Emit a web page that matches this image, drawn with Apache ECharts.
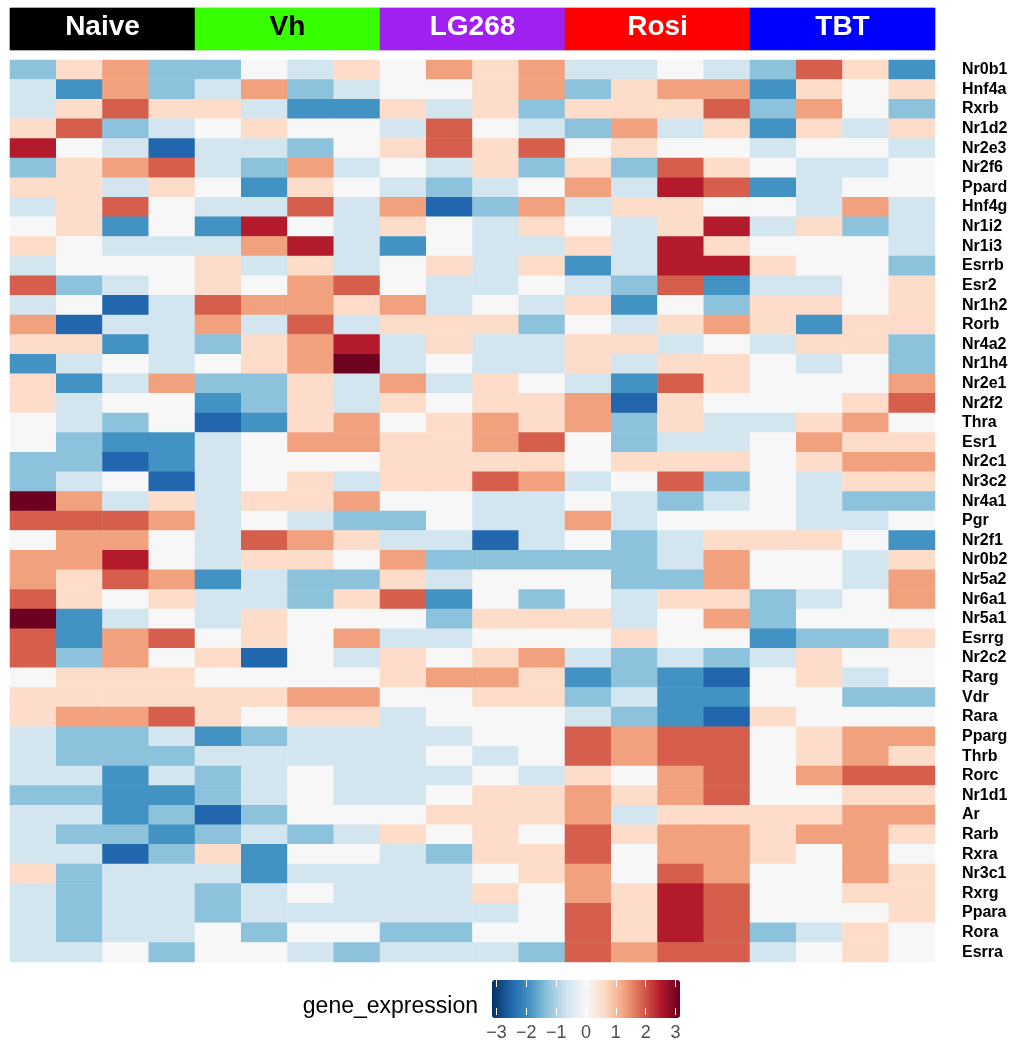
<!DOCTYPE html>
<html>
<head>
<meta charset="utf-8">
<script src="https://cdn.jsdelivr.net/npm/echarts@6/dist/echarts.min.js"></script>
<style>
  html, body { margin: 0; padding: 0; background: #ffffff; }
  #chart { width: 1011px; height: 1042px; }
</style>
</head>
<body>
<div id="chart"></div>
<script>
// Nuclear receptor genes, top to bottom
const genes = ['Nr0b1','Hnf4a','Rxrb','Nr1d2','Nr2e3','Nr2f6','Ppard','Hnf4g','Nr1i2','Nr1i3',
  'Esrrb','Esr2','Nr1h2','Rorb','Nr4a2','Nr1h4','Nr2e1','Nr2f2','Thra','Esr1',
  'Nr2c1','Nr3c2','Nr4a1','Pgr','Nr2f1','Nr0b2','Nr5a2','Nr6a1','Nr5a1','Esrrg',
  'Nr2c2','Rarg','Vdr','Rara','Pparg','Thrb','Rorc','Nr1d1','Ar','Rarb',
  'Rxra','Nr3c1','Rxrg','Ppara','Rora','Esrra'];

// Treatment groups (4 replicates each)
const groups = ['Naive', 'Vh', 'LG268', 'Rosi', 'TBT'];
const groupColors = ['#000000', '#38ff00', '#a020f0', '#ff0000', '#0000ff'];
const groupTextColors = ['#ffffff', '#000000', '#ffffff', '#ffffff', '#ffffff'];

// Scaled expression, one row per gene, 4 replicates per group
const naive = [
  [-1.3, 0.6, 1.3, -1.3], [-0.6, -1.9, 1.3, -1.3], [-0.6, 0.6, 1.9, 0.6], [0.6, 1.9, -1.3, -0.6],
  [2.5, 0, -0.6, -2.5], [-1.3, 0.6, 1.3, 1.9], [0.6, 0.6, -0.6, 0.6], [-0.6, 0.6, 1.9, 0],
  [0, 0.6, -1.9, 0], [0.6, 0, -0.6, -0.6], [-0.6, 0, 0, 0], [1.9, -1.3, -0.6, 0],
  [-0.6, 0, -2.5, -0.6], [1.3, -2.5, -0.6, -0.6], [0.6, 0.6, -1.9, -0.6], [-1.9, -0.6, 0, -0.6],
  [0.6, -1.9, -0.6, 1.3], [0.6, -0.6, 0, 0], [0, -0.6, -1.3, 0], [0, -1.3, -1.9, -1.9],
  [-1.3, -1.3, -2.5, -1.9], [-1.3, -0.6, 0, -2.5], [3.1, 1.3, -0.6, 0.6], [1.9, 1.9, 1.9, 1.3],
  [0, 1.3, 1.3, 0], [1.3, 1.3, 2.5, 0], [1.3, 0.6, 1.9, 1.3], [1.9, 0.6, 0, 0.6],
  [3.1, -1.9, -0.6, 0], [1.9, -1.9, 1.3, 1.9], [1.9, -1.3, 1.3, 0], [0, 0.6, 0.6, 0.6],
  [0.6, 0.6, 0.6, 0.6], [0.6, 1.3, 1.3, 1.9], [-0.6, -1.3, -1.3, -0.6], [-0.6, -1.3, -1.3, -1.3],
  [-0.6, -0.6, -1.9, -0.6], [-1.3, -1.3, -1.9, -1.9], [-0.6, -0.6, -1.9, -1.3], [-0.6, -1.3, -1.3, -1.9],
  [-0.6, -0.6, -2.5, -1.3], [0.6, -1.3, -0.6, -0.6], [-0.6, -1.3, -0.6, -0.6], [-0.6, -1.3, -0.6, -0.6],
  [-0.6, -1.3, -0.6, -0.6], [-0.6, -0.6, 0, -1.3]
];
const vh = [
  [-1.3, 0, -0.6, 0.6], [-0.6, 1.3, -1.3, -0.6], [0.6, -0.6, -1.9, -1.9], [0, 0.6, 0, 0],
  [-0.6, -0.6, -1.3, 0], [-0.6, -1.3, 1.3, -0.6], [0, -1.9, 0.6, 0], [-0.6, -0.6, 1.9, -0.6],
  [-1.9, 2.5, 0, -0.6], [-0.6, 1.3, 2.5, -0.6], [0.6, -0.6, 0.6, -0.6], [0.6, 0, 1.3, 1.9],
  [1.9, 1.3, 1.3, 0.6], [1.3, -0.6, 1.9, -0.6], [-1.3, 0.6, 1.3, 2.5], [0, 0.6, 1.3, 3.1],
  [-1.3, -1.3, 0.6, -0.6], [-1.9, -1.3, 0.6, -0.6], [-2.5, -1.9, 0.6, 1.3], [-0.6, 0, 1.3, 1.3],
  [-0.6, 0, 0, 0], [-0.6, 0, 0.6, -0.6], [-0.6, 0.6, 0.6, 1.3], [-0.6, 0, -0.6, -1.3],
  [-0.6, 1.9, 1.3, 0.6], [-0.6, 0.6, 0.6, 0], [-1.9, -0.6, -1.3, -1.3], [-0.6, -0.6, -1.3, 0.6],
  [-0.6, 0.6, 0, 0], [0, 0.6, 0, 1.3], [0.6, -2.5, 0, -0.6], [0, 0, 0, 0],
  [0.6, 0.6, 1.3, 1.3], [0.6, 0, 0.6, 0.6], [-1.9, -1.3, -0.6, -0.6], [-0.6, -0.6, -0.6, -0.6],
  [-1.3, -0.6, 0, -0.6], [-1.3, -0.6, 0, -0.6], [-2.5, -1.3, 0, 0], [-1.3, -0.6, -1.3, -0.6],
  [0.6, -1.9, 0, 0], [-0.6, -1.9, -0.6, -0.6], [-1.3, -0.6, 0, -0.6], [-1.3, -0.6, -0.6, -0.6],
  [0, -1.3, 0, 0], [0, 0, -0.6, -1.3]
];
const lg268 = [
  [0, 1.3, 0.6, 1.3], [0, 0, 0.6, 1.3], [0.6, -0.6, 0.6, -1.3], [-0.6, 1.9, 0, -0.6],
  [0.6, 1.9, 0.6, 1.9], [0, -0.6, 0.6, -1.3], [-0.6, -1.3, -0.6, 0], [1.3, -2.5, -1.3, 1.3],
  [0.6, 0, -0.6, 0.6], [-1.9, 0, -0.6, -0.6], [0, 0.6, -0.6, 0.6], [0, -0.6, -0.6, 0],
  [1.3, -0.6, 0, -0.6], [0.6, 0.6, 0.6, -1.3], [-0.6, 0.6, -0.6, -0.6], [-0.6, 0, -0.6, -0.6],
  [1.3, -0.6, 0.6, 0], [0.6, 0, 0.6, 0.6], [0, 0.6, 1.3, 0.6], [0.6, 0.6, 1.3, 1.9],
  [0.6, 0.6, 0.6, 0.6], [0.6, 0.6, 1.9, 1.3], [0, 0, -0.6, -0.6], [-1.3, 0, -0.6, -0.6],
  [-0.6, -0.6, -2.5, -0.6], [1.3, -1.3, -1.3, -1.3], [0.6, -0.6, 0, 0], [1.9, -1.9, 0, -1.3],
  [0, -1.3, 0.6, 0.6], [-0.6, -0.6, 0, 0], [0.6, 0, 0.6, 1.3], [0.6, 1.3, 1.3, 0.6],
  [0, 0, 0.6, 0.6], [-0.6, 0, 0, 0], [-0.6, -0.6, 0, 0], [-0.6, 0, -0.6, 0],
  [-0.6, -0.6, 0, -0.6], [-0.6, 0, 0.6, 0.6], [0, 0.6, 0.6, 0.6], [0.6, 0, 0.6, 0],
  [-0.6, -1.3, 0.6, 0.6], [-0.6, -0.6, 0, 0.6], [-0.6, -0.6, 0.6, 0], [-0.6, -0.6, -0.6, 0],
  [-1.3, -1.3, 0, 0], [-0.6, -0.6, -0.6, -1.3]
];
const rosi = [
  [-0.6, -0.6, 0, -0.6], [-1.3, 0.6, 1.3, 1.3], [0.6, 0.6, 0.6, 1.9], [-1.3, 1.3, -0.6, 0.6],
  [0, 0.6, 0, 0], [0.6, -1.3, 1.9, 0.6], [1.3, -0.6, 2.5, 1.9], [-0.6, 0.6, 0.6, 0],
  [0, -0.6, 0.6, 2.5], [0.6, -0.6, 2.5, 0.6], [-1.9, -0.6, 2.5, 2.5], [-0.6, -1.3, 1.9, -1.9],
  [0.6, -1.9, 0, -1.3], [0, -0.6, 0.6, 1.3], [0.6, 0.6, -0.6, 0], [0.6, -0.6, 0.6, 0.6],
  [-0.6, -1.9, 1.9, 0.6], [1.3, -2.5, 0.6, 0], [1.3, -1.3, 0.6, -0.6], [0, -1.3, -0.6, -0.6],
  [0, 0.6, 0.6, 0.6], [-0.6, 0, 1.9, -1.3], [0, -0.6, -1.3, -0.6], [1.3, -0.6, 0, 0],
  [0, -1.3, -0.6, 0.6], [-1.3, -1.3, -0.6, 1.3], [0, -1.3, -1.3, 1.3], [0, -0.6, 0.6, 0.6],
  [0.6, -0.6, 0, 1.3], [0, 0.6, 0, 0], [-0.6, -1.3, -0.6, -1.3], [-1.9, -1.3, -1.9, -2.5],
  [-1.3, -0.6, -1.9, -1.9], [-0.6, -1.3, -1.9, -2.5], [1.9, 1.3, 1.9, 1.9], [1.9, 1.3, 1.9, 1.9],
  [0.6, 0, 1.3, 1.9], [1.3, 0.6, 1.3, 1.9], [1.3, -0.6, 0.6, 0.6], [1.9, 0.6, 1.3, 1.3],
  [1.9, 0, 1.3, 1.3], [1.3, 0, 1.9, 1.3], [1.3, 0.6, 2.5, 1.9], [1.9, 0.6, 2.5, 1.9],
  [1.9, 0.6, 2.5, 1.9], [1.9, 1.3, 1.9, 1.9]
];
const tbt = [
  [-1.3, 1.9, 0.6, -1.9], [-1.9, 0.6, 0, 0.6], [-1.3, 1.3, 0, -1.3], [-1.9, 0.6, -0.6, 0.6],
  [-0.6, 0, 0, -0.6], [0, -0.6, -0.6, 0], [-1.9, -0.6, 0, 0], [0, -0.6, 1.3, -0.6],
  [-0.6, 0.6, -1.3, -0.6], [0, 0, 0, -0.6], [0.6, 0, 0, -1.3], [-0.6, -0.6, 0, 0.6],
  [0.6, 0.6, 0, 0.6], [0.6, -1.9, 0.6, 0.6], [-0.6, 0.6, 0.6, -1.3], [0, -0.6, 0, -1.3],
  [0, 0, 0, 1.3], [0, 0, 0.6, 1.9], [-0.6, 0.6, 1.3, 0], [0, 1.3, 0.6, 0.6],
  [0, 0.6, 1.3, 1.3], [0, -0.6, 0.6, 0.6], [0, -0.6, -1.3, -1.3], [0, -0.6, -0.6, 0],
  [0.6, 0.6, 0, -1.9], [0, 0, -0.6, 0.6], [0, 0, -0.6, 1.3], [-1.3, -0.6, 0, 1.3],
  [-1.3, 0, 0, 0], [-1.9, -1.3, -1.3, 0.6], [-0.6, 0.6, 0, 0], [0, 0.6, -0.6, 0],
  [0, 0, -1.3, -1.3], [0.6, 0, 0, 0], [0, 0.6, 1.3, 1.3], [0, 0.6, 1.3, 0.6],
  [0, 1.3, 1.9, 1.9], [0, 0, 0.6, 0.6], [0.6, 0.6, 1.3, 1.3], [0.6, 1.3, 1.3, 0.6],
  [0.6, 0, 1.3, 0], [0, 0, 1.3, 0.6], [0, 0, 0.6, 0.6], [0, 0, 0, 0.6],
  [-1.3, -0.6, 0.6, 0], [-0.6, 0, 0.6, 0]
];

// Colour bar ticks and scale limits
const legendTicks = [-3, -2, -1, 0, 1, 2, 3];
const scaleMin = -3.15;
const scaleMax = 3.15;
const rdbu = ['#053061', '#2166ac', '#4393c3', '#92c5de', '#d1e5f0', '#f7f7f7',
              '#fddbc7', '#f4a582', '#d6604d', '#b2182b', '#67001f'];

// Build sample columns and heatmap cells
const groupValues = [naive, vh, lg268, rosi, tbt];
const samples = [];
groups.forEach(function (g) { for (let i = 1; i <= 4; i++) samples.push(g + '_' + i); });
const cells = [];
groupValues.forEach(function (vals, gi) {
  vals.forEach(function (row, r) {
    row.forEach(function (v, k) { cells.push([gi * 4 + k, r, v]); });
  });
});
const groupCells = groups.map(function (g, i) {
  return { value: [i, 0, i], label: { color: groupTextColors[i] } };
});

const FONT = "'Liberation Sans', Arial, Helvetica, sans-serif";
const chart = echarts.init(document.getElementById('chart'), null, { renderer: 'canvas' });

chart.setOption({
  backgroundColor: '#ffffff',
  animation: false,
  textStyle: { fontFamily: FONT },
  grid: [
    { left: 10, top: 60, width: 925, height: 902 },
    { left: 10, top: 8, width: 925, height: 42,
      show: true, borderWidth: 1, borderColor: '#cfcfcf', backgroundColor: 'transparent' },
    { left: 492, top: 980, width: 188, height: 38 }
  ],
  xAxis: [
    { type: 'category', gridIndex: 0, data: samples, show: false },
    { type: 'category', gridIndex: 1, data: groups, show: false },
    {
      type: 'value', gridIndex: 2, min: scaleMin, max: scaleMax, z: 10,
      axisLine: { show: false }, splitLine: { show: false },
      axisTick: { show: true, inside: true, length: 7, customValues: legendTicks,
                  lineStyle: { color: '#ffffff', width: 1 } },
      axisLabel: { show: true, customValues: legendTicks, margin: 9, fontSize: 18, color: '#4d4d4d',
                   fontFamily: FONT,
                   formatter: function (v) { return String(v).replace('-', '\u2212'); } }
    },
    {
      type: 'value', gridIndex: 2, position: 'top', min: scaleMin, max: scaleMax, z: 10,
      axisLine: { show: false }, splitLine: { show: false }, axisLabel: { show: false },
      axisTick: { show: true, inside: true, length: 7, customValues: legendTicks,
                  lineStyle: { color: '#ffffff', width: 1 } }
    }
  ],
  yAxis: [
    {
      type: 'category', gridIndex: 0, data: genes, inverse: true, position: 'right',
      axisLine: { show: false }, axisTick: { show: false }, splitLine: { show: false },
      axisLabel: { margin: 27, fontSize: 16, fontWeight: 'bold', color: '#000000', fontFamily: FONT,
                   interval: 0 }
    },
    { type: 'category', gridIndex: 1, data: ['group'], show: false },
    { type: 'value', gridIndex: 2, show: false }
  ],
  visualMap: [
    {
      type: 'continuous', seriesIndex: 0, dimension: 2, min: scaleMin, max: scaleMax,
      inRange: { color: rdbu }, orient: 'horizontal', left: 492, top: 980,
      itemWidth: 38, itemHeight: 188, padding: 0, text: null, showLabel: false,
      calculable: false, realtime: false, hoverLink: false
    },
    {
      type: 'piecewise', seriesIndex: 1, dimension: 2, show: false,
      pieces: groups.map(function (g, i) { return { value: i, color: groupColors[i] }; })
    }
  ],
  graphic: [
    {
      type: 'text', right: 1011 - 478, top: 995,
      style: { text: 'gene_expression', fontSize: 23, fill: '#000000', fontFamily: FONT }
    }
  ],
  series: [
    {
      type: 'heatmap', xAxisIndex: 0, yAxisIndex: 0, data: cells,
      itemStyle: { borderWidth: 0 }, emphasis: { disabled: true }
    },
    {
      type: 'heatmap', xAxisIndex: 1, yAxisIndex: 1, data: groupCells,
      itemStyle: { borderWidth: 0 }, emphasis: { disabled: true },
      label: {
        show: true, fontSize: 28, fontWeight: 'bold', fontFamily: FONT, offset: [0, -2],
        formatter: function (p) { return groups[p.value[0]]; }
      }
    }
  ]
});
</script>
</body>
</html>
